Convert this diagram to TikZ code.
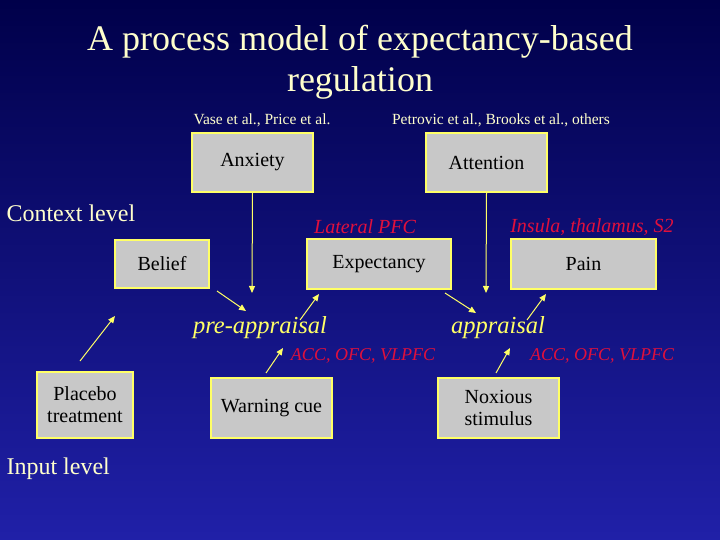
\documentclass[tikz,border=0pt]{standalone}
\usepackage{fontspec}
\setmainfont{Liberation Serif}
\usetikzlibrary{arrows.meta}
\definecolor{bgtop}{HTML}{00004A}
\definecolor{bgbot}{HTML}{2020A8}
\definecolor{boxfill}{HTML}{C8C8C8}
\definecolor{ylw}{HTML}{FFFF66}
\definecolor{lt}{HTML}{FFFFCC}
\definecolor{rd}{HTML}{E0103C}
\begin{document}
\begin{tikzpicture}[x=1pt,y=-1pt,
  box/.style={draw=ylw,line width=1.2pt,fill=boxfill,inner sep=0pt,font=\fontsize{20}{22}\selectfont,align=center},
  arr/.style={ylw,line width=1pt,-{Triangle[length=7pt,width=6pt]}},
  red/.style={text=rd,font=\fontsize{20}{22}\selectfont\itshape},
  reds/.style={text=rd,font=\fontsize{18}{20}\selectfont\itshape},
  lvl/.style={text=lt,font=\fontsize{24}{26}\selectfont,anchor=west},
  ref/.style={text=lt,font=\fontsize{15.5}{17}\selectfont}]
\shade[top color=bgtop,bottom color=bgbot] (0,0) rectangle (720,540);
\useasboundingbox (0,0) rectangle (720,540);
\node[text=lt,font=\fontsize{36}{41}\selectfont,align=center] (title) at (360,62) {A process model of expectancy-based\\regulation};
\node[ref] (r1) at (262,120) {Vase et al., Price et al.};
\node[ref] (r2) at (501,120) {Petrovic et al., Brooks et al., others};
\node[box,minimum width=121pt,minimum height=59pt] (anx) at (252.5,162.5) {Anxiety};
\node[box,minimum width=121pt,minimum height=59pt] (att) at (486.5,162.5) {Attention};
\node[box,minimum width=94pt,minimum height=48pt] (bel) at (162,264) {Belief};
\node[box,minimum width=144pt,minimum height=50pt] (exp) at (379,264) {Expectancy};
\node[box,minimum width=145pt,minimum height=50pt] (pain) at (583.5,264) {Pain};
\node[box,minimum width=96pt,minimum height=66pt] (plc) at (85,405) {Placebo\\treatment};
\node[box,minimum width=121pt,minimum height=60pt] (warn) at (271.5,408) {Warning cue};
\node[box,minimum width=121pt,minimum height=60pt] (nox) at (498.5,408) {Noxious\\stimulus};
\node[lvl] (ctx) at (3,213) {Context level};
\node[lvl] (inp) at (3,469) {Input level};
\node[red] (lpfc) at (365,227) {Lateral PFC};
\node[red] (ins) at (592,227) {Insula, thalamus, S2};
\node[text=ylw,font=\fontsize{24.5}{26}\selectfont\itshape] (pre) at (260,328) {pre-appraisal};
\node[text=ylw,font=\fontsize{24.5}{26}\selectfont\itshape] (app) at (498,328) {appraisal};
\node[reds] (acc1) at (363,356) {ACC, OFC, VLPFC};
\node[reds] (acc2) at (602,356) {ACC, OFC, VLPFC};
\coordinate (p1) at (252,293);
\coordinate (p2) at (486,293);
\draw[arr] (anx.south) -- (p1);
\draw[arr] (att.south) -- (p2);
\draw[arr] (217,291) -- (246,311);
\draw[arr] (300,320) -- (319,294);
\draw[arr] (445,293) -- (476,313);
\draw[arr] (527,320) -- (546,294);
\draw[arr] (80,361) -- (115,316);
\draw[arr] (266,373) -- (283,348);
\draw[arr] (496,373) -- (510,348);
\end{tikzpicture}
\end{document}
